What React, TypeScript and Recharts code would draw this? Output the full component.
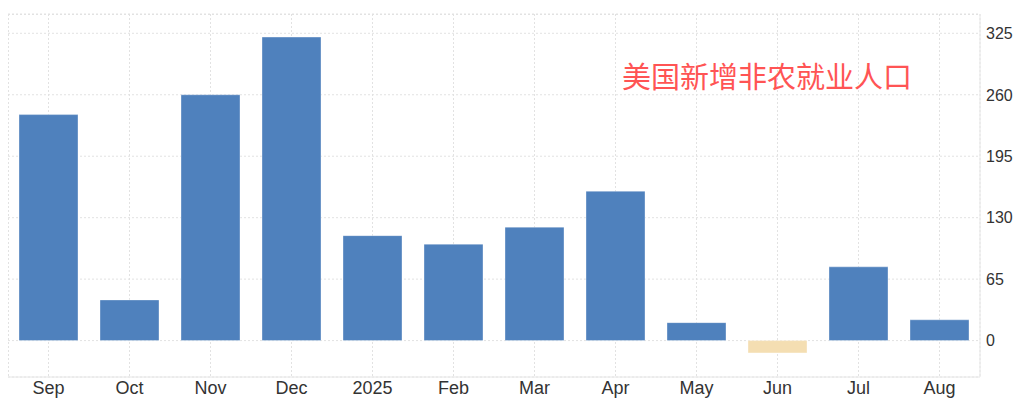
import React from "react";
import { BarChart, Bar, XAxis, YAxis, CartesianGrid, Cell } from "recharts";

const months = ["Sep", "Oct", "Nov", "Dec", "2025", "Feb", "Mar", "Apr", "May", "Jun", "Jul", "Aug"];
const payrolls = [239, 43, 260, 321, 111, 102, 120, 158, 19, -13, 78, 22];
const yTicks = [0, 65, 130, 195, 260, 325];
const title = "美国新增非农就业人口";

const data = months.map((m, i) => ({ month: m, value: payrolls[i] }));

const YTick = (props: any) => {
  const { x, y, payload } = props;
  return (
    <text x={x} y={y} dy="0.36em" textAnchor="start" fill="#333" fontSize={16} fontFamily="'Liberation Sans', Arial, sans-serif">
      {payload.value}
    </text>
  );
};

const XTick = (props: any) => {
  const { x, y, payload } = props;
  return (
    <text x={x} y={y} dy="0.71em" textAnchor="middle" fill="#333" fontSize={18} fontFamily="'Liberation Sans', Arial, sans-serif">
      {payload.value}
    </text>
  );
};

export default function App() {
  return (
    <div style={{ position: "relative", width: 1008, height: 393 }}>
      <BarChart width={1008} height={393} data={data} margin={{ top: 6, right: 0, left: 0, bottom: 0 }}>
        <CartesianGrid stroke="#e2e2e2" strokeDasharray="2 2" />
        <CartesianGrid
          stroke="#e2e2e2"
          strokeDasharray="2 2"
          horizontalCoordinatesGenerator={(p: any) => (p && p.offset ? [p.offset.top + 0.5] : [])}
          verticalCoordinatesGenerator={(p: any) => (p && p.offset ? [p.offset.left + 0.5] : [])}
        />
        <XAxis
          dataKey="month"
          axisLine={{ stroke: "#e6e6e6" }}
          tickLine={false}
          tickSize={0}
          tickMargin={4}
          height={24}
          tick={<XTick />}
          interval={0}
        />
        <YAxis
          orientation="right"
          domain={[-38.5, 345.4]}
          ticks={yTicks}
          allowDataOverflow
          axisLine={{ stroke: "#e6e6e6" }}
          tickLine={false}
          tickSize={0}
          tickMargin={6}
          width={36}
          tick={<YTick />}
        />
        <Bar dataKey="value" barSize={59} isAnimationActive={false} stroke="#ffffff" strokeOpacity={0.35} strokeWidth={1}>
          {data.map((d, i) => (
            <Cell key={i} fill={d.value < 0 ? "#f4deb2" : "#4f81bd"} />
          ))}
        </Bar>
      </BarChart>
      <div
        style={{
          position: "absolute",
          left: 614,
          top: 53,
          fontSize: 29,
          lineHeight: 1,
          color: "#ff5454",
          fontFamily: "'Noto Sans CJK SC', sans-serif",
          whiteSpace: "nowrap",
        }}
      >
        {title}
      </div>
    </div>
  );
}
